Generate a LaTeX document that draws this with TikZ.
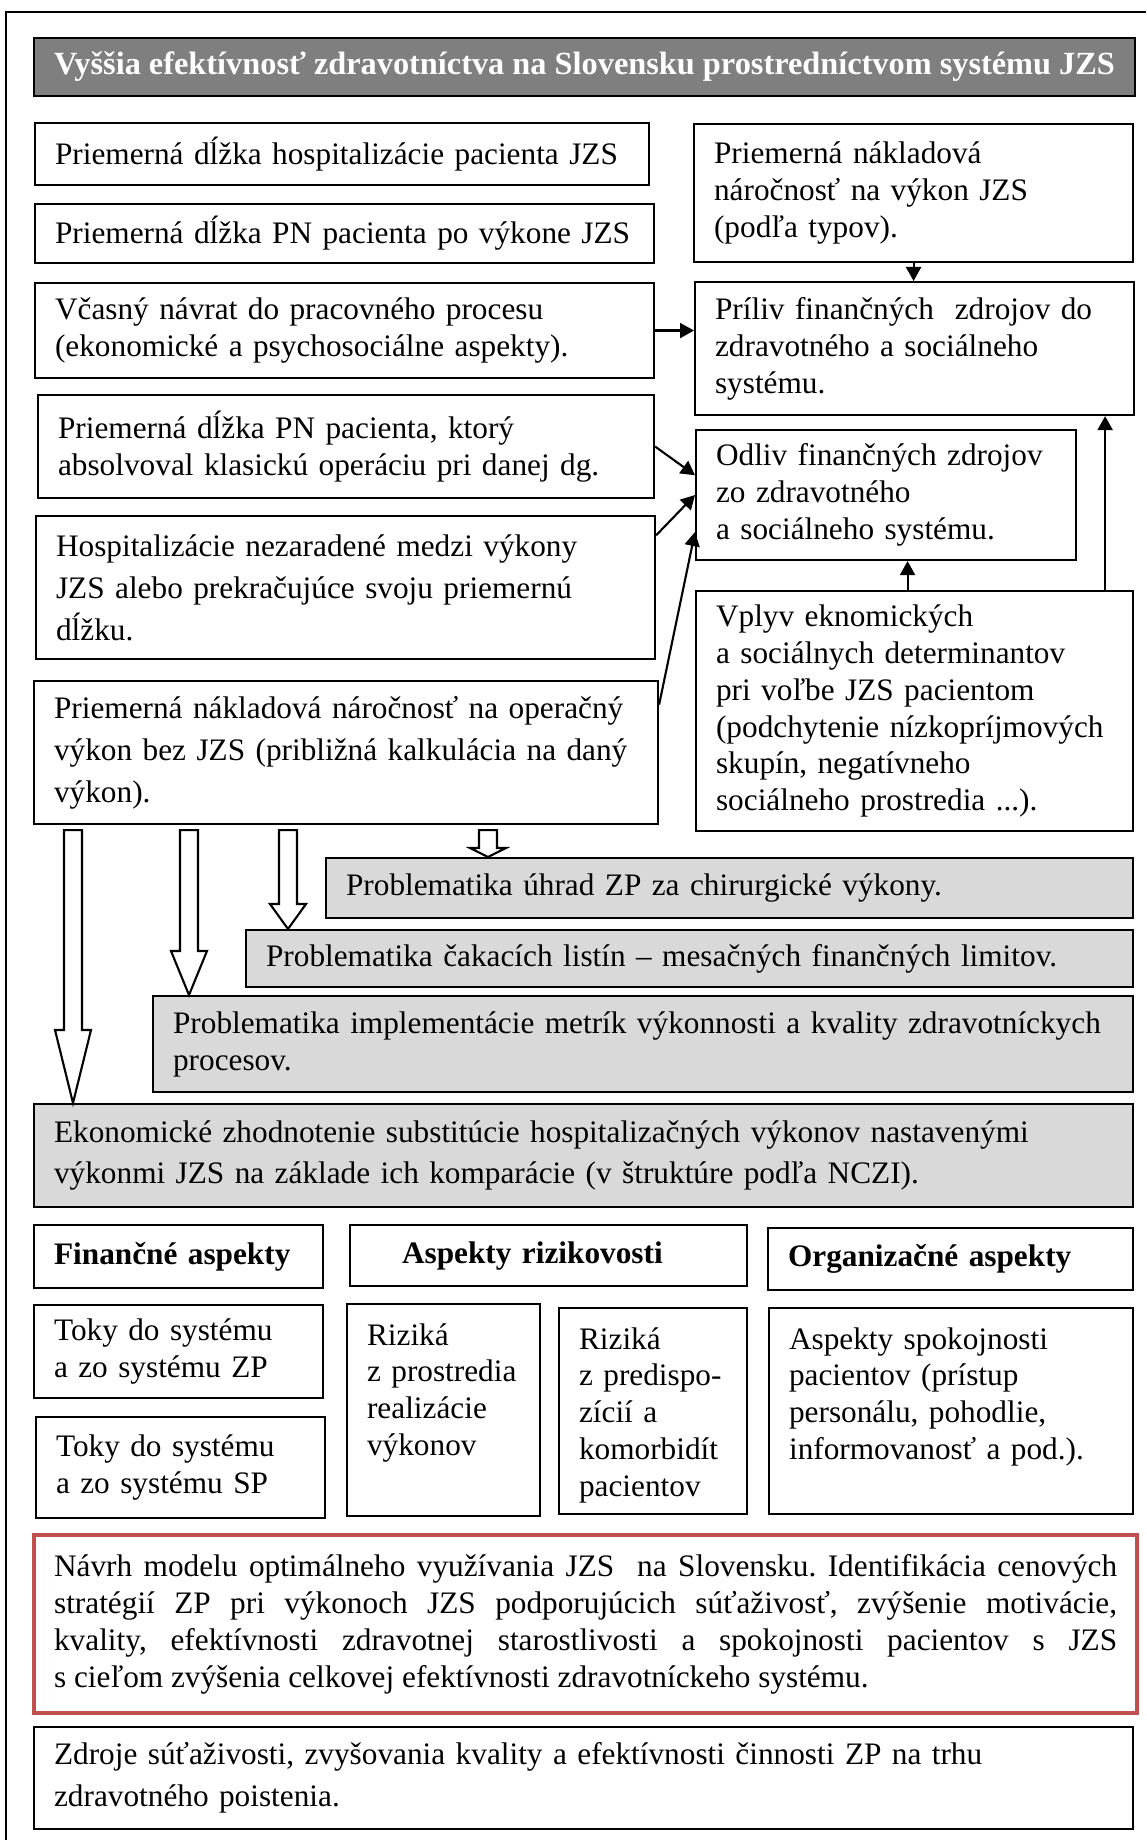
\documentclass[tikz,border=0pt]{standalone}
\usepackage{fontspec}
\setmainfont{Liberation Serif}
\usetikzlibrary{arrows.meta, calc}
\definecolor{lightgrey}{RGB}{217, 217, 217}
\definecolor{darkgrey}{RGB}{127, 127, 127}
\definecolor{redline}{RGB}{192, 80, 77}
\hyphenpenalty=10000
\frenchspacing
\tikzset{
  box/.style={draw, line width=0.6pt, anchor=north west, inner xsep=0.2cm, inner ysep=0.05cm,
              align=left, font=\fontsize{8.9}{10.5}\selectfont},
  wh/.style 2 args={text width=#1cm-0.4cm, minimum height=#2cm},
  topwh/.style 2 args={text width=#1cm-0.4cm, text height=0.25cm, text depth=#2cm, inner ysep=0.16cm},
  loose/.style={font=\fontsize{8.9}{11.9}\selectfont},
  boldtext/.style={font=\fontsize{8.9}{10.5}\selectfont\bfseries},
  link/.style={line width=0.6pt, -{Triangle[length=0.14cm, width=0.15cm]}},
  hollow/.style={draw, fill=white, line width=0.6pt}
}

\begin{document}
\begin{tikzpicture}[scale=1]
  \useasboundingbox (0, 0) rectangle (11.46, -18.40);
  \draw[line width=0.6pt] (11.46, -0.12) -- (0.06, -0.12) -- (0.06, -18.40);

  \node[box, fill=darkgrey, text=white, font=\fontsize{9.2}{10.5}\selectfont\bfseries, align=center,
        minimum width=10.99cm, minimum height=0.58cm]
    (titel) at (0.33, -0.37) {Vyššia efektívnosť zdravotníctva na Slovensku prostredníctvom systému JZS};

  % left column
  \node[box, wh={6.14}{0.62}] (hosp) at (0.34, -1.22) {Priemerná dĺžka hospitalizácie pacienta~JZS};
  \node[box, wh={6.19}{0.59}] (pnjzs) at (0.34, -2.03) {Priemerná dĺžka PN pacienta po~výkone~JZS};
  \node[box, wh={6.19}{0.95}] (navrat) at (0.34, -2.82) {Včasný návrat do pracovného procesu\\(ekonomické a psychosociálne aspekty).};
  \node[box, wh={6.16}{1.03}] (pnklas) at (0.37, -3.94) {Priemerná dĺžka PN pacienta, ktorý\\absolvoval klasickú operáciu pri danej dg.};
  \node[box, wh={6.19}{1.43}, loose] (mimo) at (0.35, -5.15) {Hospitalizácie nezaradené medzi výkony\\JZS alebo prekračujúce svoju priemernú\\dĺžku.};
  \node[box, wh={6.24}{1.43}, loose] (naklad) at (0.33, -6.80) {Priemerná nákladová náročnosť na operačný\\výkon bez JZS (približná kalkulácia na daný\\výkon).};

  % right column
  \node[box, wh={4.39}{1.38}] (nakjzs) at (6.93, -1.23) {Priemerná nákladová\\náročnosť na výkon JZS\\(podľa typov).};
  \node[box, wh={4.39}{1.33}] (priliv) at (6.94, -2.81) {Príliv finančných\ \ zdrojov do\\zdravotného a sociálneho\\systému.};
  \node[box, wh={3.80}{1.30}] (odliv) at (6.95, -4.29) {Odliv finančných zdrojov\\zo zdravotného\\a sociálneho systému.};
  \node[box, wh={4.37}{2.40}] (vplyv) at (6.95, -5.90) {Vplyv eknomických\\a sociálnych determinantov\\pri voľbe JZS pacientom\\(podchytenie~nízkopríjmových\\skupín, negatívneho\\sociálneho prostredia ...).};

  \draw[link] (nakjzs.south) -- (nakjzs.south |- priliv.north);
  \draw[link] (navrat.east) -- (navrat.east -| priliv.west);
  \draw[link] (pnklas.east) -- ($(odliv.north west)!0.35!(odliv.south west)$);
  \draw[link] ($(mimo.north east)!0.14!(mimo.south east)$) -- (odliv.west);
  \draw[link] ($(naklad.north east)!0.17!(naklad.south east)$) -- ($(odliv.north west)!0.78!(odliv.south west)$);
  \coordinate (vt) at ([xshift=-0.07cm]vplyv.north);
  \coordinate (vr) at ([xshift=-0.29cm]vplyv.north east);
  \draw[link] (vt) -- (vt |- odliv.south);
  \draw[link] (vr) -- (vr |- priliv.south);

  % grey steps
  \node[box, wh={8.07}{0.60}, fill=lightgrey] (uhrady) at (3.25, -8.57) {Problematika úhrad ZP za chirurgické výkony.};
  \node[box, wh={8.87}{0.57}, fill=lightgrey] (listiny) at (2.45, -9.29) {Problematika čakacích listín – mesačných finančných limitov.};
  \node[box, wh={9.80}{0.96}, fill=lightgrey] (metriky) at (1.52, -9.95) {Problematika implementácie metrík výkonnosti a~kvality~zdravotníckych\\procesov.};
  \node[box, wh={10.99}{1.03}, fill=lightgrey, loose] (ekon) at (0.33, -11.03) {Ekonomické zhodnotenie substitúcie hospitalizačných výkonov nastavenými\\výkonmi JZS na základe ich komparácie (v štruktúre podľa NCZI).};

  \foreach \x/\hd/\ziel in {0.73/0.73/ekon, 1.89/0.44/metriky, 2.88/0.25/listiny, 4.88/0.09/uhrady} {
    \coordinate (ax) at (\x, 0);
    \coordinate (atop) at ($(ax |- naklad.south)+(0, -0.05)$);
    \coordinate (atip) at (ax |- \ziel.north);
    \draw[hollow] ($(atop)+(-0.09, 0)$) -- ($(atip)+(-0.09, \hd)$) -- ($(atip)+(-0.18, \hd)$) -- (atip)
      -- ($(atip)+(0.18, \hd)$) -- ($(atip)+(0.09, \hd)$) -- ($(atop)+(0.09, 0)$) -- cycle;
  }

  % aspects
  \node[box, wh={2.89}{0.63}, boldtext] (financ) at (0.33, -12.24) {Finančné aspekty};
  \node[box, wh={3.97}{0.61}, boldtext] (riziko) at (3.49, -12.24) {\hspace*{0.32cm}Aspekty rizikovosti};
  \node[box, wh={3.65}{0.62}, boldtext] (organ) at (7.67, -12.27) {Organizačné aspekty};

  \node[box, wh={2.89}{0.93}] (tokyzp) at (0.33, -13.04) {Toky do systému\\a zo systému ZP};
  \node[box, wh={2.89}{1.01}] (tokysp) at (0.35, -14.16) {Toky do systému\\a zo systému SP};
  \node[box, topwh={1.93}{1.55}] (rizprost) at (3.46, -13.03) {Riziká\\z~prostredia\\realizácie\\výkonov};
  \node[box, topwh={1.88}{1.49}] (rizpred) at (5.58, -13.07) {Riziká\\z predispo-\\zícií a\\komorbidít\\pacientov};
  \node[box, topwh={3.64}{1.49}] (spokoj) at (7.68, -13.07) {Aspekty spokojnosti\\pacientov (prístup\\personálu, pohodlie,\\informovanosť a pod.).};

  \node[box, wh={11.03}{1.78}, draw=redline, line width=1.2pt, align=justify] (navrh) at (0.32, -15.33)
    {Návrh modelu optimálneho využívania JZS\ \ na Slovensku. Identifikácia cenových\linebreak
     stratégií ZP pri výkonoch JZS podporujúcich súťaživosť, zvýšenie motivácie,\linebreak
     kvality, efektívnosti zdravotnej starostlivosti a~spokojnosti pacientov s~JZS\linebreak
     s~cieľom zvýšenia celkovej efektívnosti zdravotníckeho systému.};
  \node[box, wh={10.99}{1.02}, loose] (zdroje) at (0.33, -17.26) {Zdroje súťaživosti, zvyšovania kvality a efektívnosti činnosti ZP na trhu\\zdravotného poistenia.};
\end{tikzpicture}
\end{document}
